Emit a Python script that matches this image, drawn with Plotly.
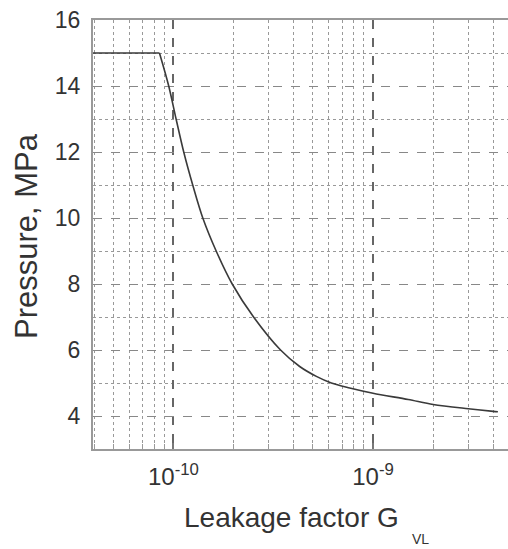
import plotly.graph_objects as go

# Data
leakage_factor = [3.9e-11, 8.51e-11, 9.47e-11, 1.031e-10, 1.126e-10, 1.249e-10, 1.403e-10,
                  1.637e-10, 1.97e-10, 2.52e-10, 3.44e-10, 4.29e-10, 5.2e-10, 6.18e-10,
                  7.64e-10, 1.0e-9, 1.5e-9, 2.0e-9, 3.0e-9, 4.0e-9, 4.22e-9]
pressure = [15.0, 15.0, 14.0, 13.0, 12.0, 11.0, 10.0,
            9.0, 8.0, 7.0, 6.0, 5.5, 5.2, 5.0,
            4.85, 4.69, 4.5, 4.35, 4.22, 4.14, 4.13]

x_major_vals = [1e-10, 1e-9]
x_major_text = ["10<sup>-10</sup>", "10<sup>-9</sup>"]
x_minor_vals = [m * 10.0 ** e for e in (-11, -10, -9) for m in range(2, 10)]
y_major_vals = [4, 6, 8, 10, 12, 14, 16]
y_minor_vals = [3, 5, 7, 9, 11, 13, 15]

FONT = "Liberation Sans, Arial, sans-serif"
TXT = "#333333"
LINE = dict(color="#3a3a3a", width=1.6)

fig = go.Figure()
# flat plateau (straight segment up to the knee)
fig.add_trace(go.Scatter(
    x=leakage_factor[:2], y=pressure[:2], mode="lines",
    line=dict(**LINE, shape="linear"), showlegend=False, hoverinfo="skip",
))
# decaying part (smooth curve from the knee)
fig.add_trace(go.Scatter(
    x=leakage_factor[1:], y=pressure[1:], mode="lines",
    line=dict(**LINE, shape="spline", smoothing=0.9), showlegend=False, hoverinfo="skip",
))

fig.update_layout(
    width=508, height=549,
    margin=dict(l=93, r=0, t=20, b=100),
    paper_bgcolor="white", plot_bgcolor="white",
    font=dict(family=FONT, color=TXT),
    showlegend=False,
    xaxis=dict(
        type="log", range=[-10.403, -8.324],
        tickmode="array", tickvals=x_major_vals, ticktext=x_major_text,
        tickfont=dict(size=24, color=TXT, family=FONT),
        ticks="inside", ticklen=6, tickwidth=1.5, tickcolor="#777",
        ticklabelstandoff=5,
        showgrid=True, gridcolor="#666", gridwidth=1.8, griddash="dash",
        minor=dict(tickmode="array", tickvals=x_minor_vals, ticks="inside", ticklen=5,
                   tickwidth=1, tickcolor="#999",
                   showgrid=True, gridcolor="#999", gridwidth=1, griddash="dot"),
        showline=True, linecolor="#999", linewidth=2, mirror=True,
        zeroline=False, fixedrange=True,
    ),
    yaxis=dict(
        range=[3, 16],
        tickmode="array", tickvals=y_major_vals,
        tickfont=dict(size=23, color=TXT, family=FONT),
        ticks="", ticklabelstandoff=6,
        showgrid=True, gridcolor="#888", gridwidth=1.3, griddash="dash",
        minor=dict(tickmode="array", tickvals=y_minor_vals, ticks="",
                   showgrid=True, gridcolor="#999", gridwidth=1, griddash="dot"),
        showline=True, linecolor="#999", linewidth=2,
        zeroline=False, fixedrange=True,
    ),
    annotations=[
        dict(text="Pressure, MPa", xref="paper", yref="paper", x=-0.1614, y=0.4965,
             xanchor="center", yanchor="middle", textangle=-90, showarrow=False,
             font=dict(size=31, color=TXT, family=FONT)),
        dict(text="Leakage factor G", xref="paper", yref="paper", x=0.4788, y=-0.16,
             xanchor="center", yanchor="middle", showarrow=False,
             font=dict(size=28, color=TXT, family=FONT)),
        dict(text="VL", xref="paper", yref="paper", x=0.788, y=-0.210,
             xanchor="center", yanchor="middle", showarrow=False,
             font=dict(size=14, color=TXT, family=FONT)),
    ],
)

fig.write_html("out.html")
